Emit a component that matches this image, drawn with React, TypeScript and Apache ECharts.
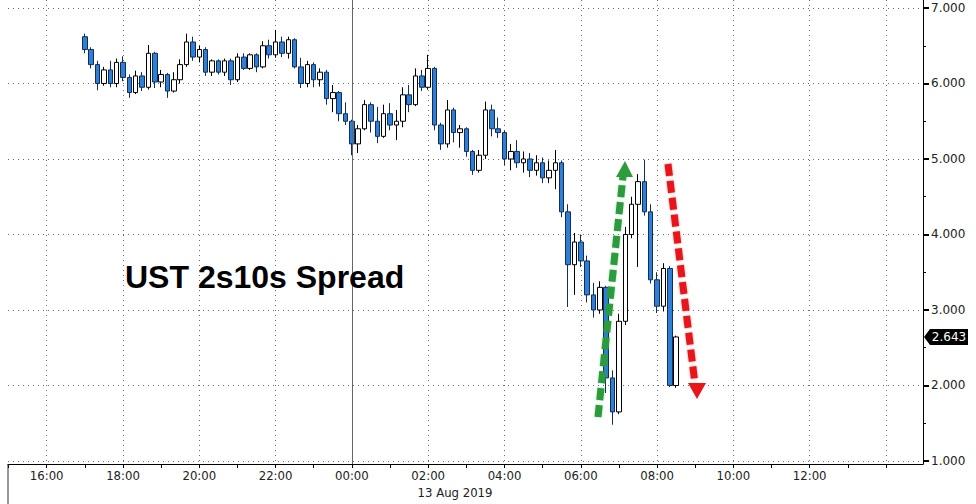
import React, { useEffect, useRef } from "react";
import * as echarts from "echarts";

// 10-minute bars, 12 Aug 17:00 -> 13 Aug 08:30
const times = [
  "17:00", "17:10", "17:20", "17:30", "17:40", "17:50",
  "18:00", "18:10", "18:20", "18:30", "18:40", "18:50",
  "19:00", "19:10", "19:20", "19:30", "19:40", "19:50",
  "20:00", "20:10", "20:20", "20:30", "20:40", "20:50",
  "21:00", "21:10", "21:20", "21:30", "21:40", "21:50",
  "22:00", "22:10", "22:20", "22:30", "22:40", "22:50",
  "23:00", "23:10", "23:20", "23:30", "23:40", "23:50",
  "00:00", "00:10", "00:20", "00:30", "00:40", "00:50",
  "01:00", "01:10", "01:20", "01:30", "01:40", "01:50",
  "02:00", "02:10", "02:20", "02:30", "02:40", "02:50",
  "03:00", "03:10", "03:20", "03:30", "03:40", "03:50",
  "04:00", "04:10", "04:20", "04:30", "04:40", "04:50",
  "05:00", "05:10", "05:20", "05:30", "05:40", "05:50",
  "06:00", "06:10", "06:20", "06:30", "06:40", "06:50",
  "07:00", "07:10", "07:20", "07:30", "07:40", "07:50",
  "08:00", "08:10", "08:20", "08:30",
];

const opens = [
  6.62, 6.45, 6.25, 6.0, 6.18, 6.0,
  6.28, 6.08, 5.88, 6.1, 5.95, 6.4,
  6.02, 6.12, 5.9, 6.05, 6.25, 6.55,
  6.35, 6.45, 6.15, 6.3, 6.15, 6.3,
  6.05, 6.35, 6.2, 6.38, 6.22, 6.5,
  6.38, 6.55, 6.4, 6.58, 6.22, 6.0,
  6.25, 6.05, 6.15, 5.8, 5.88, 5.6,
  5.5, 5.2, 5.4, 5.72, 5.5, 5.3,
  5.6, 5.45, 5.5, 5.85, 5.72, 6.1,
  5.95, 6.2, 5.45, 5.2, 5.65, 5.35,
  5.4, 5.1, 4.85, 5.05, 5.65, 5.4,
  5.35, 5.0, 5.1, 4.95, 5.0, 4.85,
  4.95, 4.75, 4.85, 4.95, 4.3, 3.6,
  3.9, 3.65, 3.2, 3.0, 3.3, 2.1,
  1.65, 2.85, 4.0, 4.4, 4.7, 4.3,
  3.4, 3.05, 3.55, 2.0,
];

const closes = [
  6.45, 6.25, 6.0, 6.18, 6.0, 6.28,
  6.08, 5.88, 6.1, 5.95, 6.4, 6.02,
  6.12, 5.9, 6.05, 6.25, 6.55, 6.35,
  6.45, 6.15, 6.3, 6.15, 6.3, 6.05,
  6.35, 6.2, 6.38, 6.22, 6.5, 6.38,
  6.55, 6.4, 6.58, 6.22, 6.0, 6.25,
  6.05, 6.15, 5.8, 5.88, 5.6, 5.5,
  5.2, 5.4, 5.72, 5.5, 5.3, 5.6,
  5.45, 5.5, 5.85, 5.72, 6.1, 5.95,
  6.2, 5.45, 5.2, 5.65, 5.35, 5.4,
  5.1, 4.85, 5.05, 5.65, 5.4, 5.35,
  5.0, 5.1, 4.95, 5.0, 4.85, 4.95,
  4.75, 4.85, 4.95, 4.3, 3.6, 3.9,
  3.65, 3.2, 3.0, 3.3, 2.1, 1.65,
  2.85, 4.0, 4.4, 4.7, 4.3, 3.4,
  3.05, 3.55, 2.0, 2.643,
];

const lows = [
  6.4, 6.2, 5.91, 5.97, 5.95, 5.95,
  6.03, 5.81, 5.86, 5.9, 5.92, 5.94,
  5.95, 5.81, 5.88, 6.0, 6.22, 6.3,
  6.28, 6.1, 6.1, 6.12, 6.1, 5.98,
  6.02, 6.18, 6.18, 6.15, 6.2, 6.33,
  6.34, 6.35, 6.33, 6.2, 5.94, 5.95,
  5.95, 5.96, 5.72, 5.62, 5.5, 5.45,
  5.05, 5.08, 5.38, 5.35, 5.21, 5.28,
  5.38, 5.25, 5.42, 5.62, 5.7, 5.9,
  5.92, 5.38, 5.12, 5.15, 5.22, 5.15,
  5.03, 4.79, 4.82, 5.0, 5.3, 5.28,
  4.92, 4.85, 4.88, 4.82, 4.76, 4.78,
  4.68, 4.68, 4.6, 4.23, 3.04, 3.2,
  3.57, 3.1, 2.9, 2.95, 1.9, 1.48,
  1.62, 2.8, 3.95, 3.57, 4.25, 3.35,
  2.96, 2.98, 1.98, 1.97,
];

const highs = [
  6.66, 6.48, 6.3, 6.22, 6.3, 6.33,
  6.36, 6.12, 6.17, 6.15, 6.51, 6.42,
  6.18, 6.14, 6.15, 6.32, 6.66, 6.62,
  6.5, 6.48, 6.32, 6.32, 6.33, 6.33,
  6.4, 6.4, 6.4, 6.4, 6.56, 6.58,
  6.71, 6.62, 6.62, 6.6, 6.34, 6.3,
  6.28, 6.2, 6.18, 5.98, 5.9, 5.75,
  5.52, 5.45, 5.78, 5.75, 5.69, 5.72,
  5.74, 5.65, 5.95, 5.98, 6.2, 6.18,
  6.38, 6.22, 5.48, 5.78, 5.68, 5.45,
  5.42, 5.12, 5.12, 5.76, 5.72, 5.55,
  5.38, 5.2, 5.25, 5.1, 5.08, 5.05,
  5.02, 4.98, 5.12, 4.98, 4.4, 4.02,
  4.0, 3.72, 3.36, 3.38, 3.32, 2.2,
  2.95, 4.1, 4.5, 4.8, 4.99, 4.4,
  3.5, 3.62, 3.58, 2.66,
];

// axis ticks (hours counted from 12 Aug 00:00)
const hourTicks = [15, 16, 17, 18, 19, 20, 21, 22, 23, 24, 25, 26, 27, 28, 29, 30, 31, 32, 33, 34, 35, 36, 37, 38];
const gridHours = [16, 18, 20, 22, 24, 26, 28, 30, 32, 34, 36, 38];
const labelHours = [16, 18, 20, 22, 24, 26, 28, 30, 32, 34, 36];
const dayBreakHour = [24];
const yLabels = [1, 2, 3, 4, 5, 6, 7];
const yHalfTicks = [1.5, 2.5, 3.5, 4.5, 5.5, 6.5];
const lastValue = 2.643;
const dateLabel = "13 Aug 2019";
const titleText = "UST 2s10s Spread";

function toHours(t: string): number {
  const [h, m] = t.split(":").map(Number);
  return (h < 12 ? h + 24 : h) + m / 60;
}

export default function App() {
  const ref = useRef<HTMLDivElement>(null);

  useEffect(() => {
    document.body.style.margin = "0";
    const chart = echarts.init(ref.current!, null, { renderer: "svg" });
    const data = times.map((t, i) => [toHours(t), opens[i], closes[i], lows[i], highs[i]]);
    const axisFont = '"DejaVu Sans Condensed", "Liberation Sans Narrow", "DejaVu Sans", sans-serif';
    const fmtHour = (v: number) => {
      const h = Math.round(v) % 24;
      return (h < 10 ? "0" : "") + h + ":00";
    };
    const xMin = 14.986;
    const xMax = 38.97;
    const yMin = 0.96;
    const yMax = 7.106;
    const gridLine = { color: "#6a6a6a", type: [1, 4] as any, width: 1 };

    chart.setOption({
      animation: false,
      backgroundColor: "#ffffff",
      grid: { left: 8, right: 53, top: 0, bottom: 40 },
      xAxis: [
        {
          type: "value",
          min: xMin,
          max: xMax,
          axisLine: { show: true, onZero: false, lineStyle: { color: "#000", width: 1 } },
          axisTick: { show: true, customValues: hourTicks, length: 4, lineStyle: { color: "#000" } },
          axisLabel: {
            customValues: labelHours,
            formatter: fmtHour,
            color: "#222",
            fontFamily: axisFont,
            fontSize: 13,
            margin: 5,
          },
          splitLine: { show: false },
        },
        {
          type: "value",
          min: xMin,
          max: xMax,
          position: "bottom",
          axisLine: { show: false },
          axisTick: { show: false, customValues: gridHours },
          axisLabel: { show: false },
          splitLine: { show: true, lineStyle: gridLine },
        },
      ],
      yAxis: [
        {
          type: "value",
          position: "right",
          min: yMin,
          max: yMax,
          axisLine: { show: true, onZero: false, lineStyle: { color: "#000", width: 1 } },
          axisTick: { show: true, customValues: yLabels, length: 6, lineStyle: { color: "#000", width: 2 } },
          axisLabel: {
            customValues: yLabels,
            formatter: (v: number) => v.toFixed(3),
            color: "#222",
            fontFamily: '"DejaVu Sans", sans-serif',
            fontSize: 12,
            margin: 8,
          },
          splitLine: { show: true, lineStyle: gridLine },
        },
        {
          type: "value",
          position: "right",
          min: yMin,
          max: yMax,
          axisLine: { show: false },
          axisTick: { show: true, customValues: yHalfTicks, length: 3, lineStyle: { color: "#000" } },
          axisLabel: { show: false },
          splitLine: { show: false },
        },
      ],
      series: [
        {
          type: "candlestick",
          xAxisIndex: 0,
          yAxisIndex: 0,
          data,
          barWidth: 5,
          itemStyle: {
            color: "#ffffff",
            borderColor: "#000000",
            color0: "#2d80d6",
            borderColor0: "#142c58",
            borderWidth: 1,
          },
          markLine: {
            silent: true,
            symbol: "none",
            label: { show: false },
            lineStyle: { color: "#666", type: "solid", width: 1 },
            data: dayBreakHour.map((h) => ({ xAxis: h })),
          },
          z: 3,
        },
      ],
    });

    const py = chart.convertToPixel({ yAxisIndex: 0 }, lastValue) as number;

    chart.setOption({
      graphic: [
        {
          type: "line",
          shape: { x1: 8, y1: 464, x2: 8, y2: 504 },
          style: { stroke: "#333", lineWidth: 1 },
          z: 50,
        },
        {
          type: "text",
          x: 125,
          y: 277,
          style: {
            text: titleText,
            font: 'bold 32px "Liberation Sans", Arial, sans-serif',
            fill: "#000",
            verticalAlign: "middle",
          },
          z: 50,
        },
        {
          type: "text",
          x: 455,
          y: 492,
          style: {
            text: dateLabel,
            font: '13px ' + axisFont,
            fill: "#222",
            align: "center",
            verticalAlign: "middle",
          },
          z: 50,
        },
        // green up arrow
        {
          type: "line",
          shape: { x1: 598, y1: 417, x2: 623, y2: 176 },
          style: { stroke: "#2c9c3c", lineWidth: 7, lineDash: [12, 5], shadowBlur: 2, shadowColor: "rgba(44,156,60,0.4)" },
          z: 60,
        },
        {
          type: "polygon",
          shape: { points: [[625, 161], [616, 177], [633, 177]] },
          style: { fill: "#2c9c3c" },
          z: 60,
        },
        // red down arrow
        {
          type: "line",
          shape: { x1: 668, y1: 164, x2: 695, y2: 384 },
          style: { stroke: "#e8161b", lineWidth: 7, lineDash: [12, 5], shadowBlur: 2, shadowColor: "rgba(232,22,27,0.4)" },
          z: 60,
        },
        {
          type: "polygon",
          shape: { points: [[697, 399], [688, 383], [706, 383]] },
          style: { fill: "#e8161b" },
          z: 60,
        },
        // last value tag
        {
          type: "polygon",
          shape: { points: [[924, py], [930, py - 8], [968, py - 8], [968, py + 8], [930, py + 8]] },
          style: { fill: "#000" },
          z: 60,
        },
        {
          type: "text",
          x: 949,
          y: py,
          style: {
            text: lastValue.toFixed(3),
            font: '12px "DejaVu Sans", sans-serif',
            fill: "#fff",
            align: "center",
            verticalAlign: "middle",
          },
          z: 61,
        },
      ],
    });

    return () => chart.dispose();
  }, []);

  return <div ref={ref} style={{ width: 976, height: 504 }} />;
}
